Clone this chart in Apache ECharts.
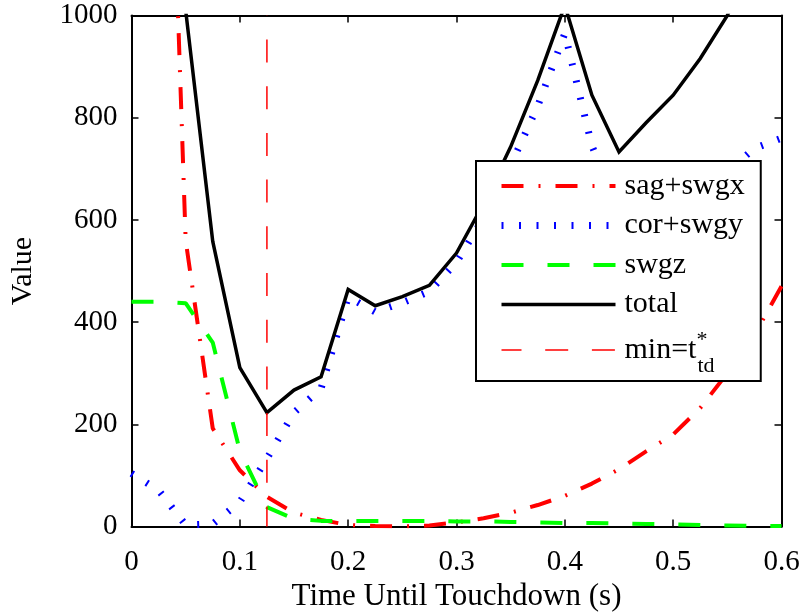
<!DOCTYPE html>
<html>
<head>
<meta charset="utf-8">
<script src="https://cdn.jsdelivr.net/npm/echarts@6/dist/echarts.min.js"></script>
<style>
  html, body { margin: 0; background: #fff; }
  #chart { width: 804px; height: 613px; }
</style>
</head>
<body>
<div id="chart"></div>
<script>
// time until touchdown (s), one sample every 0.025 s
var times = [0, 0.025, 0.05, 0.075, 0.1, 0.125, 0.15, 0.175, 0.2, 0.225, 0.25, 0.275, 0.3,
             0.325, 0.35, 0.375, 0.4, 0.425, 0.45, 0.475, 0.5, 0.525, 0.55, 0.575, 0.6];
var sagSwgx = [3500, 2130, 560, 192, 110, 58, 27, 13, 3, 1, 0, 2, 8,
               16, 27, 42, 60, 84, 112, 147, 180, 232, 300, 375, 470];
var corSwgy = [104, 71, 3, 5, 48, 133, 223, 270, 449, 420, 438, 460, 517,
               604, 707, 823, 965, 745, 615, 638, 660, 681, 695, 740, 760];
var swgz = [440, 440, 437, 360, 148, 38, 15, 11, 11, 11, 11, 11, 10,
            10, 9, 8, 7, 7, 6, 5, 4, 3, 2, 1, 1];
var total = [4050, 2640, 1010, 558, 311, 223, 267, 293, 464, 432, 450, 472, 535,
             632, 743, 873, 1020, 844, 733, 790, 844, 916, 1000, 1121, 1231];
var tdMin = 0.125;
var minLine = [0, 1000];

function pairs(ys) {
    return times.map(function (t, i) { return [t, ys[i]]; });
}

var serif = 'Liberation Serif';
var myChart = echarts.init(document.getElementById('chart'));

var frameX = {
    min: 0, max: 0.6, interval: 0.1,
    axisLine: { show: true, onZero: false, lineStyle: { color: '#000', width: 2 } },
    axisTick: { inside: true, length: 7, lineStyle: { color: '#000', width: 1.5 } },
    splitLine: { show: false }
};
var frameY = {
    min: 0, max: 1000, interval: 200,
    axisLine: { show: true, onZero: false, lineStyle: { color: '#000', width: 2 } },
    axisTick: { show: true, inside: true, length: 7, lineStyle: { color: '#000', width: 1.5 } },
    splitLine: { show: false }
};

myChart.setOption({
    animation: false,
    backgroundColor: '#fff',
    grid: {
        left: 131.5, right: 22.5, top: 15.5, bottom: 86.5,
        containLabel: false, outerBoundsMode: 'none'
    },
    xAxis: [
        Object.assign({
            type: 'value', position: 'bottom',
            name: 'Time Until Touchdown (s)', nameLocation: 'middle', nameGap: 52,
            nameTextStyle: { fontFamily: serif, fontSize: 31, color: '#000' },
            axisLabel: { fontFamily: serif, fontSize: 29, color: '#000', margin: 21 }
        }, frameX),
        Object.assign({ type: 'value', position: 'top', axisLabel: { show: false } }, frameX)
    ],
    yAxis: [
        Object.assign({
            type: 'value', position: 'left',
            name: 'Value', nameLocation: 'middle', nameGap: 93,
            nameTextStyle: { fontFamily: serif, fontSize: 30, color: '#000' },
            axisLabel: {
                fontFamily: serif, fontSize: 29, color: '#000', margin: 14,
                formatter: function (v) { return String(v); }
            }
        }, frameY),
        Object.assign({ type: 'value', position: 'right', axisLabel: { show: false } }, frameY)
    ],
    legend: {
        orient: 'vertical',
        left: 476, top: 161,
        padding: [10, 16, 4, 22],
        itemWidth: 114, itemHeight: 14, itemGap: 9.5,
        backgroundColor: '#fff',
        borderColor: '#000', borderWidth: 2,
        itemStyle: { opacity: 0 },
        lineStyle: { width: 'inherit' },
        textStyle: {
            fontFamily: serif, fontSize: 30, color: '#000', padding: [0, 0, 0, 4],
            rich: {
                sup: { fontFamily: serif, fontSize: 22, width: 1, padding: [0, 0, 20, 0] },
                sub: { fontFamily: serif, fontSize: 22, padding: [32, 0, 0, 0] }
            }
        },
        formatter: function (name) {
            return name === 'min=t_td*' ? 'min=t{sup|*}{sub|td}' : name;
        },
        data: ['sag+swgx', 'cor+swgy', 'swgz', 'total', 'min=t_td*']
    },
    series: [
        {
            name: 'sag+swgx', type: 'line', symbol: 'none', data: pairs(sagSwgx),
            lineStyle: { color: '#ff0000', width: 4, type: [22, 15, 2, 15], cap: 'butt' },
            itemStyle: { color: '#ff0000' }
        },
        {
            name: 'cor+swgy', type: 'line', symbol: 'none', data: pairs(corSwgy),
            lineStyle: { color: '#0000ff', width: 7, type: [2, 15.5], cap: 'butt' },
            itemStyle: { color: '#0000ff' }
        },
        {
            name: 'swgz', type: 'line', symbol: 'none', data: pairs(swgz),
            lineStyle: { color: '#00ff00', width: 4, type: [22, 24], cap: 'butt' },
            itemStyle: { color: '#00ff00' }
        },
        {
            name: 'total', type: 'line', symbol: 'none', data: pairs(total),
            lineStyle: { color: '#000', width: 3.5, join: 'miter' },
            itemStyle: { color: '#000' }
        },
        {
            name: 'min=t_td*', type: 'line', symbol: 'none',
            data: minLine.map(function (v) { return [tdMin, v]; }),
            lineStyle: { color: '#ff0000', width: 1.5, type: [23, 23.7], dashOffset: 3 },
            itemStyle: { color: '#ff0000' }
        }
    ]
});
</script>
</body>
</html>
